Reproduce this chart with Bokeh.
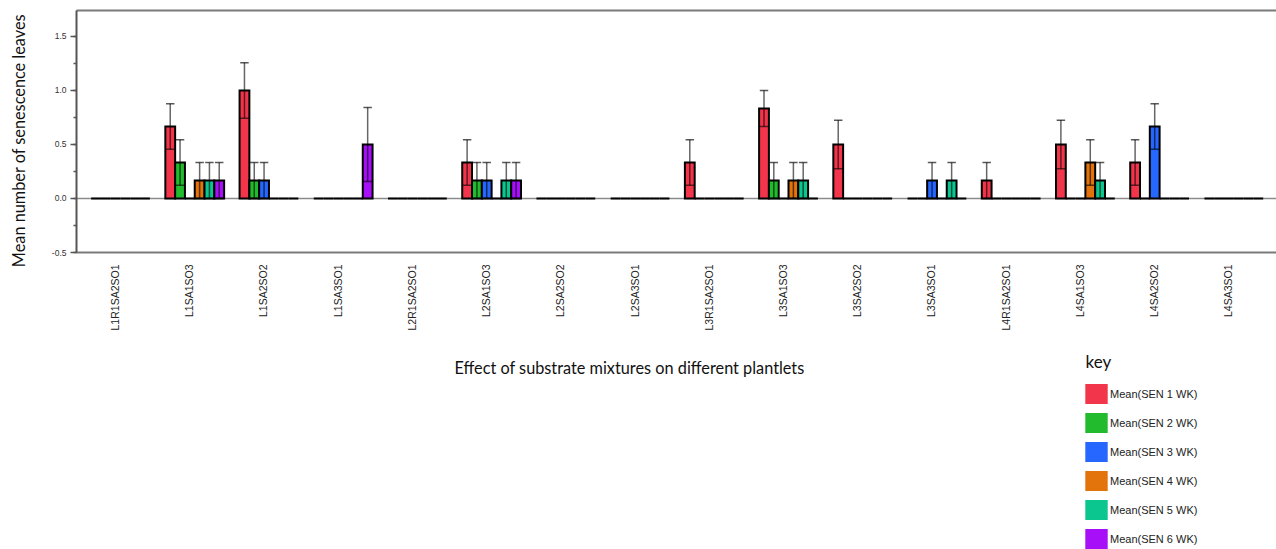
import math
from bokeh.plotting import figure
from bokeh.layouts import column, row
from bokeh.models import (SingleIntervalTicker, FixedTicker, PrintfTickFormatter,
                          Span, Label, Legend, LegendItem, LinearAxis, Range1d)
from bokeh.embed import file_html
from bokeh.resources import INLINE

categories = ["L1R1SA2SO1", "L1SA1SO3", "L1SA2SO2", "L1SA3SO1",
              "L2R1SA2SO1", "L2SA1SO3", "L2SA2SO2", "L2SA3SO1",
              "L3R1SA2SO1", "L3SA1SO3", "L3SA2SO2", "L3SA3SO1",
              "L4R1SA2SO1", "L4SA1SO3", "L4SA2SO2", "L4SA3SO1"]

series_names = ["Mean(SEN 1 WK)", "Mean(SEN 2 WK)", "Mean(SEN 3 WK)",
                "Mean(SEN 4 WK)", "Mean(SEN 5 WK)", "Mean(SEN 6 WK)"]

sen1_mean = [0, 0.667, 1.0, 0, 0, 0.333, 0, 0, 0.333, 0.833, 0.5, 0, 0.167, 0.5, 0.333, 0]
sen1_se   = [0, 0.211, 0.258, 0, 0, 0.211, 0, 0, 0.211, 0.167, 0.224, 0, 0.167, 0.224, 0.211, 0]
sen2_mean = [0, 0.333, 0.167, 0, 0, 0.167, 0, 0, 0, 0.167, 0, 0, 0, 0, 0, 0]
sen2_se   = [0, 0.211, 0.167, 0, 0, 0.167, 0, 0, 0, 0.167, 0, 0, 0, 0, 0, 0]
sen3_mean = [0, 0, 0.167, 0, 0, 0.167, 0, 0, 0, 0, 0, 0.167, 0, 0, 0.667, 0]
sen3_se   = [0, 0, 0.167, 0, 0, 0.167, 0, 0, 0, 0, 0, 0.167, 0, 0, 0.211, 0]
sen4_mean = [0, 0.167, 0, 0, 0, 0, 0, 0, 0, 0.167, 0, 0, 0, 0.333, 0, 0]
sen4_se   = [0, 0.167, 0, 0, 0, 0, 0, 0, 0, 0.167, 0, 0, 0, 0.211, 0, 0]
sen5_mean = [0, 0.167, 0, 0, 0, 0.167, 0, 0, 0, 0.167, 0, 0.167, 0, 0.167, 0, 0]
sen5_se   = [0, 0.167, 0, 0, 0, 0.167, 0, 0, 0, 0.167, 0, 0.167, 0, 0.167, 0, 0]
sen6_mean = [0, 0.167, 0, 0.5, 0, 0.167, 0, 0, 0, 0, 0, 0, 0, 0, 0, 0]
sen6_se   = [0, 0.167, 0, 0.342, 0, 0.167, 0, 0, 0, 0, 0, 0, 0, 0, 0, 0]

colors = ["#F2354A", "#22BB2D", "#2667FF", "#E3730B", "#0BC68F", "#A60FF7"]

x_title = "Effect of substrate mixtures on different plantlets"
y_title = "Mean number of senescence leaves"
key_title = "key"

means = [sen1_mean, sen2_mean, sen3_mean, sen4_mean, sen5_mean, sen6_mean]
ses = [sen1_se, sen2_se, sen3_se, sen4_se, sen5_se, sen6_se]

W = 1276
H1, H2 = 340, 209
TW = 40          # width of the strip holding the y title
LEFT = 76        # page x of the plot frame's left edge


def no_align(fig):
    if "frame_align" in fig.properties():
        fig.frame_align = False


# ---- y-title strip ----
t = figure(width=TW, height=H1, output_backend="svg", toolbar_location=None,
           x_range=Range1d(0, 1), y_range=Range1d(0, 1),
           x_axis_location=None, y_axis_location=None,
           min_border_left=0, min_border_right=0, min_border_top=0,
           min_border_bottom=0, background_fill_color="white",
           border_fill_color="white")
t.outline_line_color = None
t.grid.visible = False
no_align(t)
t.add_layout(Label(x=18, y=H1 - 140, x_units="screen", y_units="screen",
                   text=y_title, angle=math.pi / 2, text_align="center",
                   text_baseline="middle", text_font="Lato",
                   text_font_size="16.3px", text_color="#111111"))

# ---- main chart ----
p = figure(width=W - TW, height=H1, output_backend="svg", toolbar_location=None,
           x_range=(-0.593, 15.575), y_range=(-0.5, 1.7407),
           min_border_left=LEFT - TW, min_border_right=0, min_border_top=10,
           min_border_bottom=88, background_fill_color="white",
           border_fill_color="white")
no_align(p)
p.xgrid.visible = False
p.ygrid.visible = False
p.outline_line_color = None

top_axis = LinearAxis(ticker=FixedTicker(ticks=[]), axis_line_color="#7a7a7a",
                      axis_line_width=2, major_tick_line_color=None,
                      minor_tick_line_color=None, major_label_text_alpha=0,
                      major_label_text_font_size="1px")
p.add_layout(top_axis, "above")

p.add_layout(Span(location=0, dimension="width", line_color="#8a8a8a",
                  line_width=1.5, level="underlay"))

bw = 0.132
cap = 0.057
n = len(categories)
for j in range(6):
    xs = [i + (j - 2.5) * bw for i in range(n)]
    p.vbar(x=xs, width=bw, top=means[j], bottom=0, fill_color=colors[j],
           line_color="black", line_width=2, line_join="miter")
    ex, lo, hi = [], [], []
    for i in range(n):
        if ses[j][i] > 0:
            ex.append(xs[i])
            lo.append(means[j][i] - ses[j][i])
            hi.append(means[j][i] + ses[j][i])
    p.segment(x0=ex, x1=ex, y0=lo, y1=hi, line_color="black", line_alpha=0.6,
              line_width=1.5)
    p.segment(x0=[x - bw / 2 for x in ex], x1=[x + bw / 2 for x in ex], y0=lo, y1=lo,
              line_color="black", line_alpha=0.6, line_width=1.5)
    p.segment(x0=[x - cap for x in ex], x1=[x + cap for x in ex], y0=hi, y1=hi,
              line_color="black", line_alpha=0.65, line_width=1.5)

# x axis (labels sit slightly left of the group centre, as in the original)
label_shift = 0.074
tick_pos = [i - label_shift for i in range(n)]
p.xaxis.ticker = FixedTicker(ticks=tick_pos)
p.xaxis.major_label_overrides = {tp: c for tp, c in zip(tick_pos, categories)}
p.xaxis.major_label_orientation = math.pi / 2
p.xaxis.major_tick_line_color = None
p.xaxis.minor_tick_line_color = None
p.xaxis.major_label_standoff = 6
p.xaxis.axis_line_color = "#7a7a7a"
p.xaxis.axis_line_width = 2
p.xaxis.major_label_text_font = "Liberation Sans"
p.xaxis.major_label_text_font_size = "10.5px"
p.xaxis.major_label_text_color = "#222222"

yax = p.yaxis[0]
yax.ticker = SingleIntervalTicker(interval=0.5, num_minor_ticks=2)
yax.formatter = PrintfTickFormatter(format="%.1f")
yax.major_tick_out = 6
yax.major_tick_in = 0
yax.minor_tick_out = 3
yax.minor_tick_in = 0
yax.axis_line_color = "#555555"
yax.axis_line_width = 2
yax.major_tick_line_color = "#555555"
yax.major_tick_line_width = 1.5
yax.minor_tick_line_color = "#555555"
yax.minor_tick_line_width = 1.5
yax.major_label_standoff = 4
yax.major_label_text_font = "Liberation Sans"
yax.major_label_text_font_size = "8.5px"
yax.major_label_text_color = "#333333"

# ---- bottom strip: x title and key ----
q = figure(width=W, height=H2, output_backend="svg", toolbar_location=None,
           x_range=Range1d(0, 1), y_range=Range1d(0, 1),
           x_axis_location=None, y_axis_location=None,
           min_border_left=LEFT, min_border_right=0, min_border_top=0,
           min_border_bottom=0, background_fill_color="white",
           border_fill_color="white")
no_align(q)
q.outline_line_color = None
q.grid.visible = False

q.add_layout(Label(x=629 - LEFT, y=182, x_units="screen", y_units="screen",
                   text=x_title, text_align="center", text_baseline="alphabetic",
                   text_font="Lato", text_font_size="16.3px", text_color="#111111"))
q.add_layout(Label(x=1085 - LEFT, y=188, x_units="screen", y_units="screen",
                   text=key_title, text_align="left", text_baseline="alphabetic",
                   text_font="Lato", text_font_size="17px", text_color="#111111"))

nan = float("nan")
items = []
for j in range(6):
    r = q.vbar(x=[nan], top=[nan], width=0.1, fill_color=colors[j], line_color=None)
    items.append(LegendItem(label=series_names[j], renderers=[r]))
legend = Legend(items=items, location=(1082 - LEFT, -2), orientation="vertical",
                glyph_width=28, glyph_height=25, label_height=20, spacing=4,
                label_standoff=0, padding=0, margin=0, border_line_alpha=0,
                background_fill_alpha=0, label_text_font="Liberation Sans",
                label_text_font_size="11px", label_text_color="#222222")
q.add_layout(legend)

layout = column(row(t, p, spacing=0), q, spacing=0)
open("out.html", "w").write(file_html(layout, INLINE))
